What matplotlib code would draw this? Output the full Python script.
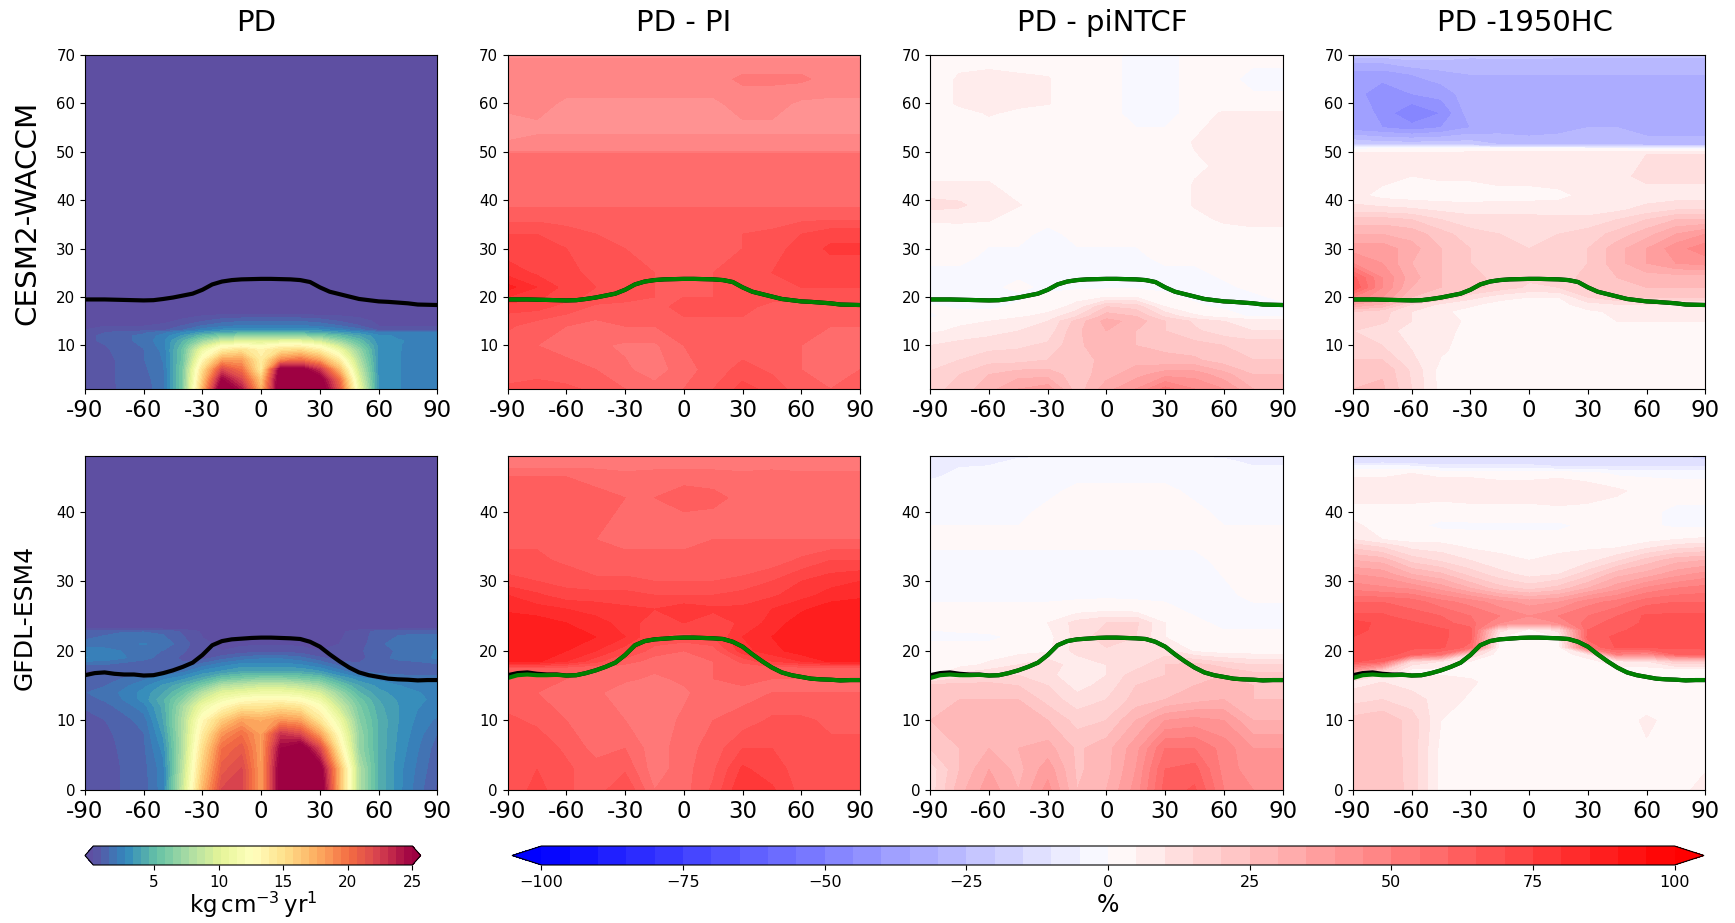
import numpy as np
import matplotlib
matplotlib.use("Agg")
import matplotlib.pyplot as plt

# latitude columns: 10 deg for the PD panels, 15 deg for the difference panels
lat_pd = [-90, -80, -70, -60, -50, -40, -30, -20, -10, 0, 10, 20, 30, 40, 50, 60, 70, 80, 90]
lat_diff = [-90, -75, -60, -45, -30, -15, 0, 15, 30, 45, 60, 75, 90]

z_pd_cesm = [1, 3, 5, 7, 9, 10, 11, 12, 12.7, 13.2, 14, 15, 16.5, 70]
pd_cesm = [
    [.4, .6, 1.1, 1.3, 1.8, 6, 17, 27, 24, 17, 27, 29, 27, 21, 11, 3.2, 2.8, 2.5, 2.3],
    [.4, .7, 1.1, 1.3, 1.9, 6, 16, 25, 22, 16, 27, 29, 26, 20, 10, 3.2, 2.8, 2.5, 2.3],
    [.4, .7, 1.1, 1.4, 2, 6, 15, 22, 20, 14, 26, 26, 23, 17, 9, 3.2, 2.8, 2.5, 2.4],
    [.5, .7, 1.1, 1.5, 2.2, 5.5, 13, 18, 18, 14, 19, 20, 18, 14, 8, 3.2, 2.8, 2.5, 2.4],
    [.6, .8, 1.2, 1.5, 2.3, 5.5, 11, 14, 15, 13.5, 15, 15.5, 14, 11, 7, 3.2, 2.8, 2.6, 2.5],
    [.7, .9, 1.3, 1.6, 2.5, 5, 9, 12, 12.5, 12, 13, 13, 12, 9, 6, 3.2, 2.8, 2.6, 2.6],
    [.8, 1, 1.4, 1.7, 2.6, 4.5, 7, 9, 9.5, 9.5, 10, 10, 9, 7, 5, 3, 2.8, 2.7, 2.7],
    [.8, 1, 1.4, 1.7, 2.4, 3.5, 5, 6, 6.5, 6.5, 6.5, 6.5, 6, 5, 4, 2.9, 2.7, 2.7, 2.7],
    [.7, .9, 1.2, 1.4, 1.9, 2.8, 3.5, 4, 4.3, 4.3, 4.3, 4.3, 4, 3.5, 3, 2.2, 2.2, 2.2, 2.2],
    [.3, .4, .5, .6, .8, 1.5, 2.5, 3, 3.2, 3.2, 3.2, 3.2, 3, 2.5, 1.8, .8, .6, .5, .4],
    [.3, .3, .3, .3, .4, 1, 1.6, 2, 2.3, 2.3, 2.3, 2.3, 2, 1.6, 1, .3, .3, .3, .3],
    [.2, .2, .2, .2, .2, .4, .9, 1.3, 1.5, 1.5, 1.5, 1.5, 1.3, .9, .5, .2, .2, .2, .2],
    [.1, .1, .1, .1, .1, .1, .1, .2, .2, .2, .2, .2, .1, .1, .1, .1, .1, .1, .1],
    [.1, .1, .1, .1, .1, .1, .1, .1, .1, .1, .1, .1, .1, .1, .1, .1, .1, .1, .1],
]

z_pd_gfdl = [0, 3, 6, 8, 10, 12, 13, 14, 15, 16, 17, 18, 19, 20, 21, 22.8, 23.2, 48]
pd_gfdl = [
    [.4, .5, 1, 1.2, 2.5, 9, 17, 22, 22, 18, 26, 28, 27, 17, 8, 4.5, 3, 1.8, .8],
    [.4, .5, 1, 1.3, 2.5, 8.5, 16, 21, 22, 18, 26, 28, 26, 17, 8, 4.5, 3, 2, 1],
    [.4, .6, 1.1, 1.4, 3, 8, 15, 20, 21, 18, 25, 26.5, 22, 14, 7, 4.5, 3.2, 2.2, 1.2],
    [.5, .7, 1.2, 1.5, 3.5, 8, 14, 18.5, 20, 18, 23, 22, 18, 12.5, 7, 4.5, 3.3, 2.4, 1.5],
    [.6, .9, 1.3, 1.8, 4, 8, 13, 16, 18, 17.5, 18.5, 18, 14.5, 11, 6.5, 4.5, 3.4, 2.6, 2],
    [1, 1.3, 1.8, 2.5, 4.2, 7.5, 11, 13, 14.5, 14.5, 15, 14.5, 12.5, 9, 6, 4.2, 3.4, 2.8, 2.5],
    [1.3, 1.6, 2.2, 3, 4.5, 6.5, 9.5, 11.5, 12.5, 13, 13, 12.5, 11, 8, 5.5, 4, 3.3, 2.9, 2.6],
    [1.5, 1.8, 2.3, 3, 4, 5.5, 8, 10, 10.5, 11, 11, 10.5, 9.5, 7, 4.7, 3.6, 3.1, 2.8, 2.6],
    [1.2, 1.5, 2, 2.6, 3.5, 4.5, 6, 8, 8.5, 9, 9, 8.5, 7.5, 5.5, 4, 3.2, 2.8, 2.5, 2.3],
    [1, 1.2, 1.6, 2, 2.6, 3.2, 4.2, 5.5, 6, 6.5, 6.5, 6, 5.5, 4, 3, 2.6, 2.2, 2, 1.9],
    [.8, .9, 1, 1.1, 1.5, 2, 3, 3.5, 4, 4, 4, 4, 3.5, 2.5, 1.5, 1.2, 1, 1, 1],
    [1.5, 1.5, 1.2, 1, .9, 1, 1.8, 2.5, 3, 3, 3, 2.8, 2.2, 1.3, 1, 1.1, 1.2, 1.3, 1.4],
    [2.8, 2.6, 2.2, 1.8, 1.2, .8, .6, 1.2, 1.7, 2, 2, 1.7, 1, .6, .7, 1.3, 1.7, 1.8, 2.3],
    [2.6, 2.4, 2.1, 1.8, 1.5, 1, .5, .3, .5, .6, .6, .5, .3, .4, .8, 1.3, 1.6, 1.9, 2.2],
    [1.6, 1.8, 2, 2.2, 1.9, 1.2, .4, .2, .2, .2, .2, .2, .2, .3, .6, 1.4, 1.8, 2, 1.9],
    [1.4, 1.4, 1.5, 1.5, 1.4, .8, .2, .2, .2, .2, .2, .2, .2, .2, .5, 1.2, 1.4, 1.4, 1.4],
    [.1, .1, .1, .1, .1, .1, .1, .1, .1, .1, .1, .1, .1, .1, .1, .1, .1, .1, .1],
    [.1, .1, .1, .1, .1, .1, .1, .1, .1, .1, .1, .1, .1, .1, .1, .1, .1, .1, .1],
]

z_pi_cesm = [1, 5, 10, 14, 18, 20, 22, 25, 30, 33, 37, 40, 45, 49.5, 50.5, 55, 60, 65, 68, 70]
pi_cesm = [
    [66, 66, 66, 64, 60, 57, 60, 65, 72, 68, 62, 60, 62],
    [62, 64, 62, 60, 56, 52, 58, 62, 67, 64, 60, 60, 60],
    [62, 60, 58, 56, 54, 54, 60, 62, 62, 62, 60, 58, 58],
    [66, 62, 60, 58, 60, 60, 64, 64, 64, 62, 62, 60, 60],
    [72, 72, 68, 64, 64, 64, 66, 66, 66, 64, 64, 64, 64],
    [80, 76, 72, 68, 66, 65, 65, 65, 66, 66, 66, 66, 66],
    [87, 80, 73, 70, 67, 65, 65, 65, 68, 70, 70, 70, 70],
    [78, 74, 72, 68, 66, 65, 65, 65, 66, 70, 72, 72, 72],
    [72, 72, 70, 67, 65, 65, 65, 65, 65, 68, 72, 76, 76],
    [70, 70, 67, 65, 65, 65, 65, 65, 65, 66, 70, 73, 73],
    [62, 62, 62, 62, 62, 62, 62, 62, 62, 62, 62, 62, 62],
    [58, 58, 58, 58, 58, 58, 58, 58, 58, 58, 58, 58, 58],
    [58, 58, 58, 58, 58, 58, 58, 58, 58, 58, 58, 58, 58],
    [56, 56, 56, 56, 56, 56, 56, 56, 56, 56, 56, 56, 56],
    [47, 47, 47, 47, 47, 47, 47, 47, 47, 47, 47, 47, 47],
    [42, 44, 44, 44, 44, 44, 44, 44, 44, 44, 44, 44, 44],
    [47, 47, 44, 44, 44, 44, 44, 44, 47, 47, 44, 44, 44],
    [48, 48, 48, 48, 48, 48, 48, 48, 51, 51, 51, 48, 48],
    [48, 48, 48, 48, 48, 48, 48, 48, 48, 48, 48, 48, 48],
    [43, 43, 43, 43, 43, 43, 43, 43, 43, 43, 43, 43, 43],
]

z_nt_cesm = [1, 4, 7, 10, 13, 15, 16, 18, 20, 22, 25, 28, 33, 36, 39, 43, 47, 52, 58, 60, 65, 70]
nt_cesm = [
    [18, 22, 28, 35, 38, 22, 33, 40, 52, 45, 40, 30, 30],
    [16, 20, 25, 28, 28, 22, 28, 33, 38, 38, 32, 25, 25],
    [12, 15, 18, 18, 20, 22, 27, 28, 26, 26, 22, 20, 20],
    [10, 12, 13, 14, 16, 24, 28, 25, 24, 22, 20, 18, 18],
    [4, 6, 8, 10, 12, 24, 30, 25, 20, 16, 12, 10, 10],
    [3, 4, 5, 8, 10, 22, 32, 28, 20, 14, 10, 8, 8],
    [-1, 2, 2, 4, 7, 15, 28, 25, 14, 6, 3, -1, -1],
    [1, -1, -1, 1, 2, 7, 20, 18, 5, 1, -1, -1, -1],
    [-4, -2, -1, -1, 1, 3, 5, 5, 1, -1, -1, -1, 1],
    [-2, -1, -1, 1, -1, -1, -1, -1, -1, -1, -1, 1, 1],
    [-1, -1, -1, -1, -1, -1, -1, -1, -1, -1, 1, 1, 1],
    [1, 1, -1, -1, -1, -1, -1, -1, 1, 1, 1, 1, 1],
    [1, 2, 1, 1, -1, 1, 1, 1, 1, 1, 2, 4, 4],
    [6, 6, 5.5, 1, 1, 1, 1, 1, 1, 3, 6, 6, 6],
    [12, 11, 7, 5.5, 1, 1, 1, 1, 1, 5.5, 7, 7, 7],
    [6, 6, 6, 1, 1, 1, 1, 1, 1, 5.5, 6, 7, 7],
    [1, 1, 1, 1, 1, 1, 1, 1, 1, 4, 6, 7, 7],
    [1, 1, 1, 1, 1, 1, 1, 1, 1, 5.5, 6, 7, 7],
    [1, 3, 5.5, 4, 1, 1, 1, -1, -1, 1, 6, 6, 6],
    [1, 6, 7, 6, 5.5, 1, 1, -1, -1, 1, 1, 1, 1],
    [1, 6, 7, 6, 5.5, 1, 1, -1, -1, 1, 1, -1, -1],
    [1, 2, 2, 2, 1, 1, 1, -1, -1, 1, 1, 1, 1],
]

z_hc_cesm = [1, 5, 9, 13, 15, 17, 18.5, 20, 22, 24, 27, 30, 33, 36, 38, 41, 45, 49.5, 50.5, 51.5, 55, 58, 62, 66, 69, 70]
hc_cesm = [
    [25, 26, 15, 3, 2, 2, 2, 2, 2, 2, 2, 2, 2],
    [24, 24, 14, 3, 2, 2, 2, 2, 2, 2, 2, 2, 2],
    [16, 16, 10, 6, 2, 2, 2, 2, 2, 2, 2, 2, 2],
    [15, 12, 8, 6, 4, 2, 2, 2, 2, 2, 2, 2, 2],
    [16, 16, 10, 7, 4, 2, 2, 2, 4, 5, 5, 5, 5],
    [20, 17, 10, 6, 3, 3, 3, 3, 4, 6, 7, 7, 7],
    [35, 30, 15, 9, 6, 3, 3, 3, 8, 10, 10, 10, 10],
    [50, 40, 25, 20, 12, 7, 5, 5, 15, 20, 20, 20, 20],
    [65, 45, 30, 25, 22, 18, 14, 15, 20, 25, 25, 25, 25],
    [62, 45, 32, 25, 22, 18, 16, 17, 22, 25, 27, 27, 27],
    [45, 40, 30, 25, 20, 17, 16, 17, 20, 28, 35, 40, 42],
    [38, 38, 32, 25, 20, 17, 15, 16, 20, 28, 35, 43, 48],
    [30, 30, 28, 22, 17, 15, 15, 15, 17, 22, 28, 35, 40],
    [22, 22, 20, 15, 12, 12, 12, 12, 12, 15, 20, 25, 25],
    [12, 12, 11, 9, 8, 8, 8, 7, 7, 9, 12, 15, 15],
    [7, 3, 2, 2, 2, 3, 3, 4, 6, 7, 7, 7, 7],
    [7, 7, 5, 6, 6, 7, 7, 7, 7, 8, 12, 12, 12],
    [7, 6, 6, 6, 7, 7, 7, 7, 7, 8, 10, 10, 10],
    [1, 3, 3, 3, 3, 4, 4, 4, 3, 3, 1, 1, 1],
    [-20, -22, -22, -22, -22, -25, -25, -25, -25, -25, -28, -28, -28],
    [-38, -40, -43, -40, -35, -33, -35, -33, -30, -30, -32, -32, -32],
    [-35, -42, -50, -45, -32, -30, -30, -30, -30, -30, -32, -32, -32],
    [-38, -43, -40, -38, -32, -30, -30, -30, -30, -30, -30, -30, -30],
    [-38, -38, -35, -32, -30, -30, -30, -30, -30, -30, -30, -30, -30],
    [-28, -28, -25, -25, -27, -27, -27, -27, -27, -27, -27, -27, -27],
    [-22, -22, -22, -22, -22, -20, -20, -22, -22, -22, -22, -22, -22],
]

z_pi_gfdl = [0, 3, 6, 10, 14, 16, 17.5, 18.5, 20, 22, 24, 26, 28, 30, 33, 36, 39, 42, 45, 46.5, 48]
pi_gfdl = [
    [66, 72, 66, 62, 70, 55, 58, 66, 80, 76, 68, 66, 68],
    [66, 70, 66, 62, 64, 52, 58, 64, 76, 72, 68, 66, 66],
    [66, 68, 64, 58, 60, 52, 58, 62, 70, 70, 68, 66, 66],
    [66, 64, 60, 58, 55, 52, 56, 60, 62, 66, 66, 64, 64],
    [62, 60, 58, 56, 52, 52, 54, 58, 58, 60, 60, 60, 60],
    [63, 62, 60, 58, 56, 54, 56, 60, 62, 60, 60, 60, 60],
    [64, 64, 62, 60, 57, 56, 58, 60, 62, 62, 62, 62, 62],
    [86, 86, 80, 72, 62, 58, 58, 60, 66, 75, 80, 86, 86],
    [88, 88, 85, 80, 72, 62, 60, 62, 78, 83, 88, 88, 88],
    [88, 88, 87, 85, 80, 70, 68, 70, 80, 85, 88, 88, 88],
    [88, 88, 85, 82, 78, 72, 75, 72, 76, 82, 88, 90, 90],
    [84, 82, 80, 78, 76, 75, 78, 76, 76, 80, 84, 88, 88],
    [80, 76, 72, 72, 72, 70, 70, 70, 72, 74, 78, 82, 84],
    [72, 70, 68, 66, 66, 65, 65, 65, 66, 70, 75, 78, 80],
    [66, 66, 64, 62, 62, 62, 62, 62, 62, 62, 66, 70, 70],
    [64, 64, 62, 60, 58, 58, 58, 60, 60, 60, 60, 60, 60],
    [64, 64, 64, 62, 58, 58, 58, 58, 58, 60, 60, 60, 60],
    [64, 64, 64, 62, 60, 60, 64, 62, 58, 60, 58, 58, 58],
    [60, 60, 60, 58, 56, 57, 57, 57, 56, 57, 56, 56, 56],
    [54, 54, 54, 54, 54, 54, 54, 54, 54, 54, 54, 54, 54],
    [50, 50, 50, 50, 50, 50, 50, 50, 50, 50, 50, 50, 50],
]

z_nt_gfdl = [0, 3, 6, 10, 13, 15, 16.5, 18, 20, 22, 24, 26, 28, 33, 36, 40, 43, 45, 47, 48]
nt_gfdl = [
    [12, 28, 38, 30, 42, 25, 30, 42, 62, 66, 50, 45, 45],
    [12, 25, 35, 28, 38, 24, 28, 40, 60, 62, 48, 42, 42],
    [20, 25, 30, 30, 32, 24, 28, 38, 55, 55, 48, 40, 40],
    [25, 27, 30, 27, 25, 18, 20, 30, 40, 42, 40, 30, 30],
    [25, 25, 25, 25, 18, 12, 15, 22, 25, 28, 30, 25, 25],
    [22, 22, 22, 20, 15, 8, 12, 20, 22, 25, 28, 25, 25],
    [3, 12, 15, 15, 12, 5, 10, 18, 20, 25, 25, 22, 22],
    [2, 3, 6, 10, 14, 6, 10, 12, 20, 22, 18, 15, 15],
    [2, 2, 2, 3, 4, 12, 14, 14, 12, 4, 2, 2, 2],
    [-1, -1, -1, 1, 3, 12, 18, 15, 5, 2, 1, 1, 1],
    [1, 2, 3, 2, 5, 12, 15, 16, 5, 1, -1, -1, -1],
    [1, 1, 1, 1, 1, 2, 3, 2, 1, -1, -1, -1, -1],
    [-1, -1, -1, -1, -1, -1, -1, -1, -1, -1, -1, 1, 1],
    [-1, -1, -1, -1, -1, -1, -1, -1, -1, -1, 1, 1, 1],
    [1, 1, 1, 1, 1, 1, 1, 1, 1, 1, 1, 1, 1],
    [-1, -1, -1, -1, 1, 1, 1, 1, 1, 1, -1, -1, -1],
    [-1, -1, -1, -1, -1, 1, 1, 1, 1, -1, -1, -1, -1],
    [-6, -3, -1, -1, -1, -1, -1, -1, -1, -1, -1, -1, -1],
    [-6, -6, -6, -3, -1, -1, -1, -1, -1, -1, -3, -6, -6],
    [-6, -6, -6, -6, -6, -6, -6, -6, -6, -6, -6, -6, -6],
]

z_hc_gfdl = [0, 5, 10, 13, 15.5, 16.5, 17.2, 18.5, 19.5, 20.5, 22, 23, 24, 25, 27, 29, 31, 33, 35, 36, 38, 40, 43, 45.5, 46.5, 47, 48]
hc_gfdl = [
    [25, 25, 18, 3, 2, 2, 2, 2, 2, 2, 2, 4, 6],
    [24, 24, 18, 3, 2, 2, 2, 2, 2, 2, 4, 4, 4],
    [22, 24, 18, 5, 2, 2, 2, 2, 2, 2, 6, 3, 2],
    [13, 15, 12, 8, 4, 2, 2, 2, 2, 2, 2, 2, 2],
    [8, 10, 8, 8, 6, 2, 2, 2, 2, 2, 2, 2, 2],
    [18, 10, 5, 5, 4, 2, 2, 2, 2, 2, 2, 2, 2],
    [40, 20, 3, 3, 3, 2, 2, 2, 3, 3, 2, 2, 2],
    [66, 62, 15, 10, 5, 2, 2, 2, 3, 8, 10, 20, 20],
    [68, 68, 62, 55, 15, 2, 2, 2, 8, 50, 45, 60, 62],
    [70, 68, 66, 66, 58, 2, 2, 2, 55, 66, 66, 66, 66],
    [70, 68, 66, 66, 62, 5, 3, 5, 62, 66, 67, 68, 68],
    [72, 68, 66, 66, 62, 12, 4, 12, 60, 64, 67, 68, 68],
    [73, 68, 66, 62, 57, 45, 45, 45, 58, 62, 66, 68, 68],
    [66, 66, 62, 60, 55, 50, 45, 50, 55, 60, 66, 66, 66],
    [60, 60, 58, 52, 48, 42, 38, 40, 48, 52, 58, 60, 60],
    [48, 46, 44, 38, 30, 22, 18, 22, 30, 38, 46, 50, 52],
    [40, 38, 30, 26, 18, 12, 8, 10, 18, 28, 32, 38, 42],
    [30, 28, 18, 14, 10, 6, 5, 6, 8, 14, 22, 28, 30],
    [18, 14, 8, 7, 4, 4, 2, 4, 4, 4, 8, 12, 14],
    [10, 5, 3, 3, 2, 2, 2, 2, 2, 2, 3, 5, 6],
    [6, 3, 1, -1, -1, -1, -1, -1, 1, 1, 1, -1, -1],
    [3, 3, 3, 2, 3, 3, 3, 3, 3, 2, 1, -1, -1],
    [8, 8, 8, 8, 8, 8, 8, 10, 8, 6, 3, 2, 2],
    [4, 4, 5, 4, 4, 3, 3, 3, 2, -1, -1, -1, -1],
    [-4, -4, -4, -8, -8, -8, -8, -10, -10, -10, -10, -10, -10],
    [-12, -10, -12, -12, -12, -12, -12, -12, -12, -12, -12, -12, -12],
    [-15, -13, -15, -15, -15, -15, -15, -15, -15, -15, -15, -15, -18],
]

# tropopause height
tp_lat = [-90, -85, -80, -75, -70, -65, -60, -55, -50, -45, -40, -35, -30, -25, -20, -15, -10, -5, 0,
          5, 10, 15, 20, 25, 30, 35, 40, 45, 50, 55, 60, 65, 70, 75, 80, 85, 90]
tp_cesm = [19.5, 19.5, 19.5, 19.45, 19.4, 19.35, 19.3, 19.35, 19.6, 19.9, 20.3, 20.7, 21.5, 22.6, 23.2,
           23.5, 23.65, 23.7, 23.75, 23.75, 23.7, 23.65, 23.5, 23.1, 22.0, 21.1, 20.6, 20.1, 19.6, 19.35,
           19.1, 19.0, 18.85, 18.7, 18.45, 18.4, 18.35]
tp_gfdl = [16.5, 16.8, 16.9, 16.7, 16.6, 16.6, 16.45, 16.5, 16.8, 17.2, 17.7, 18.3, 19.4, 20.8, 21.4,
           21.65, 21.75, 21.85, 21.9, 21.9, 21.85, 21.8, 21.7, 21.3, 20.6, 19.5, 18.5, 17.6, 16.9, 16.5,
           16.25, 16.0, 15.9, 15.85, 15.75, 15.8, 15.8]
tp_gfdl_green = [16.1, 16.5, 16.6, 16.5, 16.5, 16.55, 16.45, 16.5, 16.8, 17.2, 17.7, 18.3, 19.4, 20.8, 21.4,
                 21.65, 21.75, 21.85, 21.9, 21.9, 21.85, 21.8, 21.7, 21.3, 20.6, 19.5, 18.5, 17.6, 16.9, 16.5,
                 16.25, 16.0, 15.9, 15.85, 15.75, 15.8, 15.8]

columns = ["PD", "PD - PI", "PD - piNTCF", "PD -1950HC"]
lat_ticks = [-90, -60, -30, 0, 30, 60, 90]
lat_labels = ["-90", "-60", "-30", "0", "30", "60", "90"]

W, H = 1735, 923
left_px = [85, 507.7, 930.3, 1353]
panel_w = 352.3
rows_px = [(55, 389), (456, 790)]
# titles are not quite centred over their panels in the original
title_shift_px = [-5, 0, -4.5, -4.5]


def add_axes_px(x0, y0, x1, y1):
    # pixel box measured from the top-left of the picture
    return fig.add_axes([x0 / W, 1 - y1 / H, (x1 - x0) / W, (y1 - y0) / H])


fig = plt.figure(figsize=(W / 100, H / 100), dpi=100)

levels_pd = np.linspace(0.3, 25, 41)
levels_diff = np.arange(-100, 105, 5)

top_row = [(lat_pd, z_pd_cesm, pd_cesm), (lat_diff, z_pi_cesm, pi_cesm),
           (lat_diff, z_nt_cesm, nt_cesm), (lat_diff, z_hc_cesm, hc_cesm)]
bottom_row = [(lat_pd, z_pd_gfdl, pd_gfdl), (lat_diff, z_pi_gfdl, pi_gfdl),
              (lat_diff, z_nt_gfdl, nt_gfdl), (lat_diff, z_hc_gfdl, hc_gfdl)]

cf_pd = None
cf_diff = None
for r, (row, ylim, yticks, tp, tp_green) in enumerate([
        (top_row, (1, 70), [10, 20, 30, 40, 50, 60, 70], tp_cesm, tp_cesm),
        (bottom_row, (0, 48), [0, 10, 20, 30, 40], tp_gfdl, tp_gfdl_green)]):
    for c, (lat, z, field) in enumerate(row):
        y0, y1 = rows_px[r]
        ax = add_axes_px(left_px[c], y0, left_px[c] + panel_w, y1)
        if c == 0:
            cf = ax.contourf(lat, z, np.array(field), levels=levels_pd, cmap="Spectral_r", extend="both")
            cf_pd = cf
            ax.plot(tp_lat, tp, color="black", lw=3)
        else:
            cf = ax.contourf(lat, z, np.array(field), levels=levels_diff, cmap="bwr", extend="both")
            cf_diff = cf
            ax.plot(tp_lat, tp, color="black", lw=3)
            ax.plot(tp_lat, tp_green, color="green", lw=3)
        ax.set_xlim(-90, 90)
        ax.set_ylim(*ylim)
        ax.set_xticks(lat_ticks)
        ax.set_xticklabels(lat_labels, fontsize=16.5)
        ax.set_yticks(yticks)
        ax.tick_params(axis="y", labelsize=10.8)
        if r == 0:
            ax.set_title(columns[c], fontsize=21, pad=17, x=0.5 + title_shift_px[c] / panel_w)

fig.text(27 / W, 1 - 213 / H, "CESM2-WACCM", rotation=90, fontsize=21.2, ha="center", va="center")
fig.text(25 / W, 1 - 617 / H, "GFDL-ESM4", rotation=90, fontsize=18, ha="center", va="center")

# the extension tips sit inside the colorbar axes, so the boxes run tip to tip
cax1 = add_axes_px(85, 846, 420.7, 865)
cb1 = fig.colorbar(cf_pd, cax=cax1, orientation="horizontal", extend="both", extendfrac=0.026)
cb1.set_ticks([5, 10, 15, 20, 25])
cb1.ax.tick_params(labelsize=11)
cb1.set_label(r"$\mathrm{kg\,cm^{-3}\,yr^{1}}$", fontsize=16.5, labelpad=0)

cax2 = add_axes_px(512, 846, 1704, 865)
cb2 = fig.colorbar(cf_diff, cax=cax2, orientation="horizontal", extend="both", extendfrac=0.026)
cb2.set_ticks([-100, -75, -50, -25, 0, 25, 50, 75, 100])
cb2.ax.tick_params(labelsize=11.5)
cb2.set_label("%", fontsize=17, labelpad=2)

fig.savefig("out.png", dpi=100)
